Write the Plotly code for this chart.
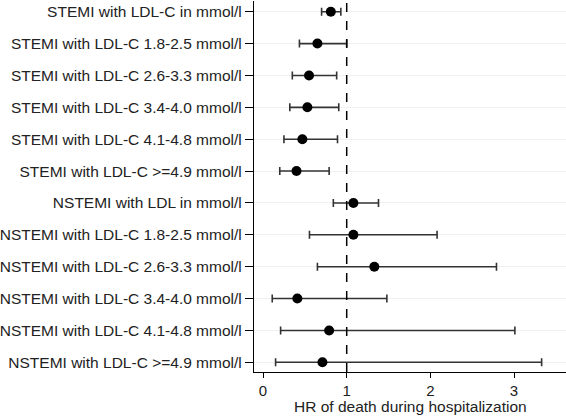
import plotly.graph_objects as go

labels = [
    "STEMI with LDL-C in mmol/l",
    "STEMI with LDL-C 1.8-2.5 mmol/l",
    "STEMI with LDL-C 2.6-3.3 mmol/l",
    "STEMI with LDL-C 3.4-4.0 mmol/l",
    "STEMI with LDL-C 4.1-4.8 mmol/l",
    "STEMI with LDL-C >=4.9 mmol/l",
    "NSTEMI with LDL in mmol/l",
    "NSTEMI with LDL-C 1.8-2.5 mmol/l",
    "NSTEMI with LDL-C 2.6-3.3 mmol/l",
    "NSTEMI with LDL-C 3.4-4.0 mmol/l",
    "NSTEMI with LDL-C 4.1-4.8 mmol/l",
    "NSTEMI with LDL-C >=4.9 mmol/l",
]
hr = [0.81, 0.65, 0.55, 0.53, 0.47, 0.40, 1.08, 1.08, 1.33, 0.41, 0.79, 0.71]
ci_low = [0.70, 0.435, 0.35, 0.32, 0.25, 0.20, 0.84, 0.555, 0.65, 0.11, 0.21, 0.15]
ci_high = [0.93, 1.00, 0.88, 0.905, 0.89, 0.79, 1.38, 2.08, 2.79, 1.48, 3.01, 3.33]
x_ticks = [0, 1, 2, 3]
x_title = "HR of death during hospitalization"

pos = list(range(len(labels)))
err_plus = [h - p for h, p in zip(ci_high, hr)]
err_minus = [p - l for p, l in zip(hr, ci_low)]

fig = go.Figure()
fig.add_trace(go.Scatter(
    x=hr, y=pos, mode="markers",
    marker=dict(color="black", size=10, symbol="circle"),
    error_x=dict(type="data", symmetric=False, array=err_plus, arrayminus=err_minus,
                 color="#333333", thickness=1.6, width=4),
    showlegend=False,
))
fig.add_vline(x=1, line=dict(color="black", width=1.5, dash="dash"))
fig.add_annotation(text=x_title, xref="paper", yref="paper", x=0.5, y=0,
                   yshift=-34, yanchor="middle", showarrow=False,
                   font=dict(size=15.5, color="#222222"))

fig.update_layout(
    width=566, height=417,
    margin=dict(l=254, r=0, t=1, b=45),
    plot_bgcolor="white", paper_bgcolor="white",
    font=dict(family="Liberation Sans, Arial, sans-serif", size=15.5, color="#222222"),
    xaxis=dict(
        range=[-0.108, 3.621], tickvals=x_ticks, ticks="outside", ticklen=5,
        tickwidth=1.3, tickcolor="black",
        showline=True, linecolor="black", linewidth=1.3, showgrid=False, zeroline=False,
        tickfont=dict(size=15),
        automargin=False,
    ),
    yaxis=dict(
        range=[11.304, -0.336], tickvals=pos, ticktext=labels, ticks="outside",
        ticklen=8, tickwidth=1.3, tickcolor="black",
        showline=True, linecolor="black", linewidth=1.3,
        showgrid=True, gridcolor="#f0f0f0", gridwidth=1, zeroline=False,
        tickfont=dict(size=15.5),
        automargin=False,
    ),
)
fig.write_html("out.html", config={"displayModeBar": False},
               post_script="document.body.style.margin='0';document.body.style.padding='0';")
